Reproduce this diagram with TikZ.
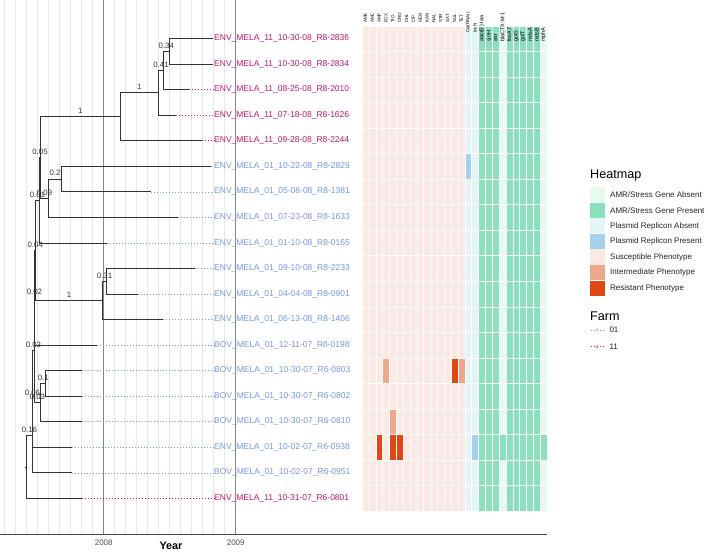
\documentclass[tikz,border=0pt]{standalone}
\usepackage{fontspec}
\setmainfont{Liberation Sans}
\definecolor{c01}{RGB}{118,150,232}
\definecolor{c11}{RGB}{196,22,110}
\definecolor{sus}{RGB}{252,233,228}
\definecolor{inter}{RGB}{236,168,140}
\definecolor{res}{RGB}{223,72,20}
\definecolor{pabs}{RGB}{227,245,246}
\definecolor{ppres}{RGB}{164,210,236}
\definecolor{gabs}{RGB}{230,250,240}
\definecolor{gpres}{RGB}{139,223,189}
\definecolor{gridminor}{RGB}{232,232,232}
\definecolor{gridmajor}{RGB}{135,135,135}
% one heatmap cell: column, row, colour
\newcommand{\hmcell}[3]{\filldraw[fill=#3, draw=white, line width=0.35pt]
  ({362+6.85*#1},{25.7+25.55*#2}) rectangle +(6.85,25.55);}

\begin{document}
\begin{tikzpicture}[
  x=1pt, y=-1pt,
  branch/.style={line width=0.75pt, black!80},
  nlab/.style={font=\fontsize{7.8}{8}\selectfont, anchor=south,
               inner sep=0pt, yshift=2.6pt},
  tiplab/.style={font=\fontsize{8.5}{9}\selectfont, anchor=west, inner sep=0pt},
  tipdots/.style={line width=0.6pt, dash pattern=on 0.9pt off 2.1pt},
  minorgrid/.style={line width=0.6pt, gridminor},
  majorgrid/.style={line width=0.75pt, gridmajor},
  hdr/.style={font=\fontsize{4.5}{5}\selectfont, rotate=90, anchor=west,
              inner sep=0pt},
  legtext/.style={font=\fontsize{8}{9}\selectfont, anchor=west,
                  inner sep=0pt, text=black!85},
  legtitle/.style={font=\fontsize{12.6}{14}\selectfont, anchor=west,
                   inner sep=0pt}]
\useasboundingbox (0,0) rectangle (708,552);

% ---- monthly grid, 2008 and 2009 marked, and the time axis -------------
\foreach \m in {-9,...,-1,1,2,...,11}
  \draw[minorgrid] ({103.7+11*\m},0) -- ({103.7+11*\m},534.3);
\draw[majorgrid] (103.7,0) -- (103.7,534.3);
\draw[majorgrid] (235.7,0) -- (235.7,534.3);
\draw[line width=0.7pt, black!70] (0,534.3) -- (547,534.3);
\node[font=\fontsize{8}{9}\selectfont, text=black!70] (y2008) at (103.7,542.7) {2008};
\node[font=\fontsize{8}{9}\selectfont, text=black!70] (y2009) at (235.7,542.7) {2009};
\node[font=\fontsize{10.8}{12}\selectfont\bfseries] (xlab) at (171,546) {Year};

% ---- tips: end of each branch, at the sampling date -------------------
\foreach \tx [count=\i from 0] in {213,213,189.3,175.7,201.7,211,151,177.7,
    107.3,195,138.3,163.3,96.7,81.7,81.7,81.7,71.7,71.7,81.7}
  \coordinate (t\i) at (\tx,{38.5+25.55*\i});

% ---- internal nodes ----------------------------------------------------
\coordinate (n034) at (169.3, 51.28);
\coordinate (n041) at (163.3, 70.44);
\coordinate (n1a)  at (158.7, 92.80);
\coordinate (n1b)  at (120.0,116.75);
\coordinate (n02)  at ( 61.7,179.03);
\coordinate (n009) at ( 48.3,198.19);
\coordinate (n005) at ( 40.7,157.47);
\coordinate (n001) at ( 39.3,200.19);
\coordinate (n031) at (106.7,281.23);
\coordinate (n1c)  at (102.3,300.39);
\coordinate (n004) at ( 35.7,250.29);
\coordinate (n002) at ( 34.7,297.70);
\coordinate (n01)  at ( 45.7,383.43);
\coordinate (n03b) at ( 40.7,402.59);
\coordinate (n03a) at ( 34.0,350.15);
\coordinate (n006) at ( 32.7,398.73);
\coordinate (n016) at ( 32.0,435.79);
\coordinate (root) at ( 26.7,467.10);

% ---- branches, with the support of each node over its branch ----------
\draw[branch] (root) -- ++(-1.5,0);
\draw[branch] (root) |- (n016) node[nlab, pos=0.75] {0.16};
\draw[branch] (root) |- (t18);
\draw[branch] (n016) |- (n006) node[nlab, pos=0.75] {0.06};
\draw[branch] (n016) |- (t17);
\draw[branch] (n006) |- (n03a) node[nlab, pos=0.75] {0.03};
\draw[branch] (n006) |- (t16);
\draw[branch] (n03a) |- (n002) node[nlab, pos=0.75] {0.02};
\draw[branch] (n03a) |- (n03b) node[nlab, pos=0.75] {0.03};
\draw[branch] (n03b) |- (n01) node[nlab, pos=0.75] {0.1};
\draw[branch] (n03b) |- (t15);
\draw[branch] (n01) |- (t13);
\draw[branch] (n01) |- (t14);
\draw[branch] (n002) |- (n004) node[nlab, pos=0.75] {0.04};
\draw[branch] (n002) |- (t12);
\draw[branch] (n004) |- (n001) node[nlab, pos=0.75] {0.01};
\draw[branch] (n004) |- (n1c) node[nlab, pos=0.75] {1};
\draw[branch] (n1c) |- (n031) node[nlab, pos=0.75] {0.31};
\draw[branch] (n1c) |- (t11);
\draw[branch] (n031) |- (t9);
\draw[branch] (n031) |- (t10);
\draw[branch] (n001) |- (n005) node[nlab, pos=0.75] {0.05};
\draw[branch] (n001) |- (t8);
\draw[branch] (n005) |- (n1b) node[nlab, pos=0.75] {1};
\draw[branch] (n005) |- (n009) node[nlab, pos=0.75] {0.09};
\draw[branch] (n009) |- (n02) node[nlab, pos=0.75] {0.2};
\draw[branch] (n009) |- (t7);
\draw[branch] (n02) |- (t5);
\draw[branch] (n02) |- (t6);
\draw[branch] (n1b) |- (n1a) node[nlab, pos=0.75] {1};
\draw[branch] (n1b) |- (t4);
\draw[branch] (n1a) |- (n041) node[nlab, pos=0.75] {0.41};
\draw[branch] (n1a) |- (t3);
\draw[branch] (n041) |- (n034) node[nlab, pos=0.75] {0.34};
\draw[branch] (n041) |- (t2);
\draw[branch] (n034) |- (t0);
\draw[branch] (n034) |- (t1);

% ---- tip labels, coloured by farm, and dotted leaders -----------------
\foreach \lab/\fm [count=\i from 0] in {
    ENV\_MELA\_11\_10-30-08\_R8-2836/11, ENV\_MELA\_11\_10-30-08\_R8-2834/11,
    ENV\_MELA\_11\_08-25-08\_R8-2010/11, ENV\_MELA\_11\_07-18-08\_R8-1626/11,
    ENV\_MELA\_11\_09-28-08\_R8-2244/11, ENV\_MELA\_01\_10-22-08\_R8-2829/01,
    ENV\_MELA\_01\_05-08-08\_R8-1381/01, ENV\_MELA\_01\_07-23-08\_R8-1633/01,
    ENV\_MELA\_01\_01-10-08\_R8-0165/01, ENV\_MELA\_01\_09-10-08\_R8-2233/01,
    ENV\_MELA\_01\_04-04-08\_R8-0901/01, ENV\_MELA\_01\_06-13-08\_R8-1406/01,
    BOV\_MELA\_01\_12-11-07\_R8-0198/01, BOV\_MELA\_01\_10-30-07\_R6-0803/01,
    BOV\_MELA\_01\_10-30-07\_R6-0802/01, BOV\_MELA\_01\_10-30-07\_R6-0810/01,
    ENV\_MELA\_01\_10-02-07\_R6-0938/01, BOV\_MELA\_01\_10-02-07\_R6-0951/01,
    ENV\_MELA\_11\_10-31-07\_R6-0801/11}
  \node[tiplab, text=c\fm] (l\i) at (214,{38.5+25.55*\i}) {\lab};
\foreach \i/\fm in {2/11,3/11,4/11,5/01,6/01,7/01,8/01,9/01,10/01,11/01,
    12/01,13/01,14/01,15/01,16/01,17/01,18/11}
  \draw[tipdots, c\fm] (t\i) -- (l\i.west);

% ---- heatmap: 15 phenotypes, 2 replicons, 10 genes --------------------
\foreach \c in {0,...,14}{\foreach \r in {0,...,18}{\hmcell{\c}{\r}{sus}}}
\foreach \r in {0,...,18}{\hmcell{15}{\r}{pabs}\hmcell{16}{\r}{pabs}}
\foreach \c in {17,...,26}{\foreach \r in {0,...,18}{\hmcell{\c}{\r}{gpres}}}
\foreach \r in {0,...,18}{\hmcell{20}{\r}{gabs}\hmcell{26}{\r}{gabs}}
\hmcell{3}{13}{inter}\hmcell{13}{13}{res}\hmcell{14}{13}{inter}
\hmcell{4}{15}{inter}
\hmcell{2}{16}{res}\hmcell{4}{16}{res}\hmcell{5}{16}{res}
\hmcell{15}{5}{ppres}\hmcell{16}{16}{ppres}
\hmcell{20}{16}{gpres}\hmcell{26}{16}{gpres}

\foreach \lab [count=\i from 0] in {AMK,AMC,AMP,FOX,TIO,CRO,CHL,CIP,GEN,KAN,
    NAL,STR,SXT,SUL,TET}
  \node[hdr] (h\i) at ({362+6.85*(\i+0.5)},23) {\lab};
\foreach \lab [count=\i from 15] in {Col(RNAI),IncN}
  \node[hdr] (h\i) at ({362+6.85*(\i+0.5)},33) {\lab};
\foreach \lab [count=\i from 17] in {{aac(6')-Iaa},sinH,asr,blaCTX-M-1,fosA7,
    golS,golT,mdsA,mdsB,mphA}
  \node[hdr, font=\fontsize{5.5}{6}\selectfont] (h\i)
    at ({362+6.85*(\i+0.5)},42) {\lab};

% ---- legends -------------------------------------------------------------
\node[legtitle] (hmtitle) at (590,175) {Heatmap};
\foreach \col/\lab [count=\k from 0] in {gabs/{AMR/Stress Gene Absent},
    gpres/{AMR/Stress Gene Present}, pabs/Plasmid Replicon Absent,
    ppres/Plasmid Replicon Present, sus/Susceptible Phenotype,
    inter/Intermediate Phenotype, res/Resistant Phenotype}{
  \fill[\col] (590,{187+15.6*\k}) rectangle +(14.5,15.2);
  \node[legtext] (hm\k) at (610,{194.8+15.6*\k}) {\lab};}
\node[legtitle] (farmtitle) at (590,316.5) {Farm};
\foreach \fm/\yy in {01/330,11/346.7}{
  \draw[tipdots, c\fm] (590.5,\yy) -- (604,\yy);
  \node[font=\fontsize{5}{5}\selectfont, text=c\fm, inner sep=0pt,
        fill=white] at (597.2,\yy) {a};
  \node[legtext] (farm\fm) at (609.3,\yy) {\fm};}
\end{tikzpicture}
\end{document}
